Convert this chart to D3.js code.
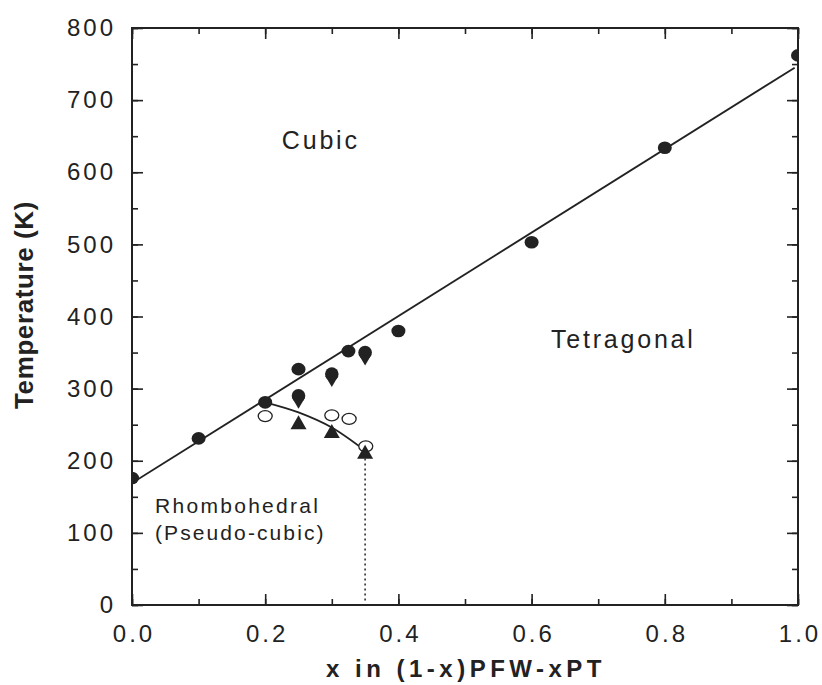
<!DOCTYPE html>
<html>
<head>
<meta charset="utf-8">
<script src="https://cdn.jsdelivr.net/npm/d3@7/dist/d3.min.js"></script>
<style>
  body { margin: 0; background: #fff; }
  svg text { font-family: "Liberation Sans", Arial, sans-serif; fill: #222; }
</style>
</head>
<body>
<div id="chart"></div>
<script>
// data
const filledCircles = [[0.0, 176], [0.1, 231], [0.2, 281], [0.25, 327], [0.325, 352], [0.4, 380], [0.6, 503], [0.8, 634], [1.0, 762]];
const dropMarkers = [[0.25, 286], [0.3, 316], [0.35, 346]];
const openCircles = [[0.2, 262], [0.3, 263], [0.326, 258], [0.351, 220]];
const upTriangles = [[0.25, 252], [0.3, 240], [0.35, 211]];
const fitLine = [[0.0, 169], [0.995, 745]];
const curveLine = [[0.2, 281], [0.25, 267], [0.3, 246], [0.35, 214]];
const dottedLine = [[0.35, 210], [0.35, 5]];
const xTicks = [0, 0.2, 0.4, 0.6, 0.8, 1.0];
const yTicks = [0, 100, 200, 300, 400, 500, 600, 700, 800];

const width = 822, height = 685;
const margin = { top: 28, right: 24, bottom: 80, left: 132 };
const innerW = width - margin.left - margin.right;
const innerH = height - margin.top - margin.bottom;

const svg = d3.select("#chart")
    .append("svg")
    .attr("width", width)
    .attr("height", height);

const g = svg.append("g")
    .attr("transform", `translate(${margin.left},${margin.top})`);

const x = d3.scaleLinear().domain([0, 1]).range([0, innerW]);
const y = d3.scaleLinear().domain([0, 800]).range([innerH, 0]);

// clip so the edge points are cut by the frame like in the original
svg.append("defs").append("clipPath").attr("id", "plotClip")
    .append("rect").attr("width", innerW).attr("height", innerH);

// axes, ticks pointing inward
const xMinor = d3.range(0, 1.001, 0.1);
const yMinor = d3.range(0, 801, 50);

g.append("g")
    .attr("class", "lbl x")
    .attr("transform", `translate(0,${innerH})`)
    .call(d3.axisBottom(x).tickValues(xTicks).tickFormat(d3.format(".1f")).tickSizeInner(-11).tickSizeOuter(0).tickPadding(20));
g.append("g")
    .attr("transform", `translate(0,${innerH})`)
    .call(d3.axisBottom(x).tickValues(xMinor).tickFormat("").tickSizeInner(-6).tickSizeOuter(0));
g.append("g")
    .attr("class", "lbl y")
    .call(d3.axisLeft(y).tickValues(yTicks).tickSizeInner(-11).tickSizeOuter(0).tickPadding(16));
g.append("g")
    .call(d3.axisLeft(y).tickValues(yMinor).tickFormat("").tickSizeInner(-6).tickSizeOuter(0));
g.append("g")
    .call(d3.axisTop(x).tickValues(xTicks).tickFormat("").tickSizeInner(-11).tickSizeOuter(0));
g.append("g")
    .call(d3.axisTop(x).tickValues(xMinor).tickFormat("").tickSizeInner(-6).tickSizeOuter(0));
g.append("g")
    .attr("transform", `translate(${innerW},0)`)
    .call(d3.axisRight(y).tickValues(yTicks).tickFormat("").tickSizeInner(-11).tickSizeOuter(0));
g.append("g")
    .attr("transform", `translate(${innerW},0)`)
    .call(d3.axisRight(y).tickValues(yMinor).tickFormat("").tickSizeInner(-6).tickSizeOuter(0));

g.selectAll(".domain").remove();
g.selectAll(".tick line").attr("stroke", "#222").attr("stroke-width", 1.6);
g.selectAll(".tick text")
    .attr("font-size", 24)
    .style("letter-spacing", "3px")
    .attr("fill", "#222");
// letter-spacing adds a trailing gap, push centred labels back
g.selectAll(".lbl.x .tick text").attr("dx", 1.5);

g.append("rect")
    .attr("width", innerW)
    .attr("height", innerH)
    .attr("fill", "none")
    .attr("stroke", "#222")
    .attr("stroke-width", 2);

// axis titles
svg.append("text")
    .attr("x", 466)
    .attr("y", 677)
    .attr("text-anchor", "middle")
    .attr("font-size", 24)
    .attr("font-weight", "bold")
    .style("letter-spacing", "4.5px")
    .text("x in (1-x)PFW-xPT");

svg.append("text")
    .attr("transform", `translate(33,305) rotate(-90)`)
    .attr("text-anchor", "middle")
    .attr("font-size", 26)
    .attr("font-weight", "bold")
    .style("letter-spacing", "0.6px")
    .text("Temperature (K)");

// lines
const plot = g.append("g").attr("clip-path", "url(#plotClip)");
const line = d3.line().x(d => x(d[0])).y(d => y(d[1]));

plot.append("path")
    .attr("d", line(fitLine))
    .attr("fill", "none")
    .attr("stroke", "#222")
    .attr("stroke-width", 1.8);

plot.append("path")
    .attr("d", line.curve(d3.curveMonotoneX)(curveLine))
    .attr("fill", "none")
    .attr("stroke", "#222")
    .attr("stroke-width", 1.8);
line.curve(d3.curveLinear);

plot.append("path")
    .attr("d", line(dottedLine))
    .attr("fill", "none")
    .attr("stroke", "#222")
    .attr("stroke-width", 1.5)
    .attr("stroke-dasharray", "2,3");

// markers
plot.selectAll(".open")
    .data(openCircles)
    .enter()
    .append("ellipse")
    .attr("cx", d => x(d[0]))
    .attr("cy", d => y(d[1]))
    .attr("rx", 7)
    .attr("ry", 5.5)
    .attr("fill", "#fff")
    .attr("stroke", "#222")
    .attr("stroke-width", 1.3);

plot.selectAll(".filled")
    .data(filledCircles)
    .enter()
    .append("ellipse")
    .attr("cx", d => x(d[0]))
    .attr("cy", d => y(d[1]))
    .attr("rx", 7)
    .attr("ry", 6.3)
    .attr("fill", "#222");

// round top, pointed bottom
const drop = plot.selectAll(".drop")
    .data(dropMarkers)
    .enter()
    .append("g")
    .attr("transform", d => `translate(${x(d[0])},${y(d[1])})`);
drop.append("circle").attr("cy", -3).attr("r", 6.8).attr("fill", "#222");
drop.append("path").attr("d", "M-6.5,-1 L6.5,-1 L0,10 Z").attr("fill", "#222");

plot.selectAll(".tri")
    .data(upTriangles)
    .enter()
    .append("path")
    .attr("transform", d => `translate(${x(d[0])},${y(d[1])})`)
    .attr("d", "M0,-8 L8,6 L-8,6 Z")
    .attr("fill", "#222");

// region labels
const labels = [
    { t: "Cubic", x: 0.225, y: 632, s: 25, ls: 2.8 },
    { t: "Tetragonal", x: 0.629, y: 356, s: 25, ls: 2.8 },
    { t: "Rhombohedral", x: 0.0345, y: 127.6, s: 21, ls: 2.3 },
    { t: "(Pseudo-cubic)", x: 0.0345, y: 90, s: 21, ls: 2.1 }
];
g.selectAll(".region")
    .data(labels)
    .enter()
    .append("text")
    .attr("x", d => x(d.x))
    .attr("y", d => y(d.y))
    .attr("font-size", d => d.s)
    .style("letter-spacing", d => `${d.ls}px`)
    .text(d => d.t);
</script>
</body>
</html>
